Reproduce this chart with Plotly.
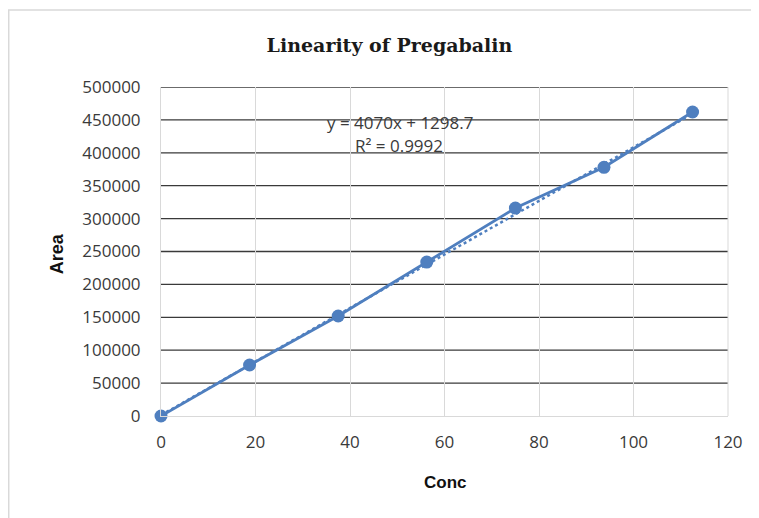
import plotly.graph_objects as go
import numpy as np

conc = [0, 18.75, 37.5, 56.25, 75, 93.75, 112.5]
area = [0, 77500, 152000, 234000, 316000, 378000, 462000]
slope = 4070
intercept = 1298.7
eq_text = "y = 4070x + 1298.7"
r2_text = "R² = 0.9992"
x_ticks = [0, 20, 40, 60, 80, 100, 120]
y_ticks = [0, 50000, 100000, 150000, 200000, 250000, 300000, 350000, 400000, 450000, 500000]

blue = "#4F7FBF"
tick_font = dict(family="Open Sans", size=17, color="#3a3a3a")

fig = go.Figure()

# horizontal dark gridlines
for v in y_ticks[1:]:
    fig.add_shape(type="line", xref="paper", yref="y", x0=0, x1=1, y0=v, y1=v,
                  line=dict(color="#3a3a3a", width=1.3), layer="below")

trend_x = np.array([conc[0], conc[-1]])
trend_y = slope * trend_x + intercept
fig.add_trace(go.Scatter(x=trend_x, y=trend_y, mode="lines",
                         line=dict(color=blue, width=2.5, dash="dot"),
                         showlegend=False, hoverinfo="skip"))
fig.add_trace(go.Scatter(x=conc, y=area, mode="lines+markers",
                         line=dict(color=blue, width=2.8),
                         marker=dict(color=blue, size=13),
                         cliponaxis=False, showlegend=False))

fig.add_annotation(x=50.6, y=446000, xref="x", yref="y", text=eq_text, showarrow=False,
                   font=dict(family="Open Sans", size=17, color="#3a3a3a"))
fig.add_annotation(x=50.3, y=411000, xref="x", yref="y", text=r2_text, showarrow=False,
                   font=dict(family="Open Sans", size=17, color="#3a3a3a"))

# axis titles
fig.add_annotation(x=0.501, y=-0.2035, xref="paper", yref="paper", text="<b>Conc</b>",
                   showarrow=False, yanchor="middle",
                   font=dict(family="Liberation Sans", size=17, color="#111"))
fig.add_annotation(x=-0.1834, y=0.492, xref="paper", yref="paper", text="<b>Area</b>",
                   showarrow=False, textangle=-90, xanchor="center", yanchor="middle",
                   font=dict(family="Liberation Sans", size=18, color="#111"))

# outer frame
fig.add_shape(type="line", xref="paper", yref="paper", x0=-0.27, x1=1.1, y0=1.234, y1=1.234,
              line=dict(color="#d9d9d9", width=1.5))
fig.add_shape(type="line", xref="paper", yref="paper", x0=-0.269, x1=-0.269, y0=1.234, y1=-0.35,
              line=dict(color="#d9d9d9", width=2))
# right border of plot area
fig.add_shape(type="line", xref="paper", yref="paper", x0=1, x1=1, y0=0, y1=1,
              line=dict(color="#d9d9d9", width=1), layer="below")

fig.update_layout(
    width=759, height=518,
    margin=dict(l=153, r=39, t=79, b=110),
    paper_bgcolor="white", plot_bgcolor="white",
    title=dict(text="<b>Linearity of Pregabalin</b>", x=0.5026, xanchor="center",
               y=0.9286, yanchor="middle",
               font=dict(family="DejaVu Serif", size=19, color="#1a1a1a")),
    xaxis=dict(range=[0, 120], tickvals=x_ticks, ticktext=[str(v) for v in x_ticks],
               showgrid=True, gridcolor="#d9d9d9",
               gridwidth=1, zeroline=False, showline=True, linecolor="#d9d9d9",
               ticks="", ticklabelstandoff=11, tickfont=tick_font),
    yaxis=dict(range=[0, 500000], tickvals=y_ticks, ticktext=[str(v) for v in y_ticks],
               showgrid=False, zeroline=False,
               showline=True, linecolor="#d9d9d9", ticks="", ticklabelstandoff=16,
               tickfont=tick_font),
)

fig.write_html("out.html")
